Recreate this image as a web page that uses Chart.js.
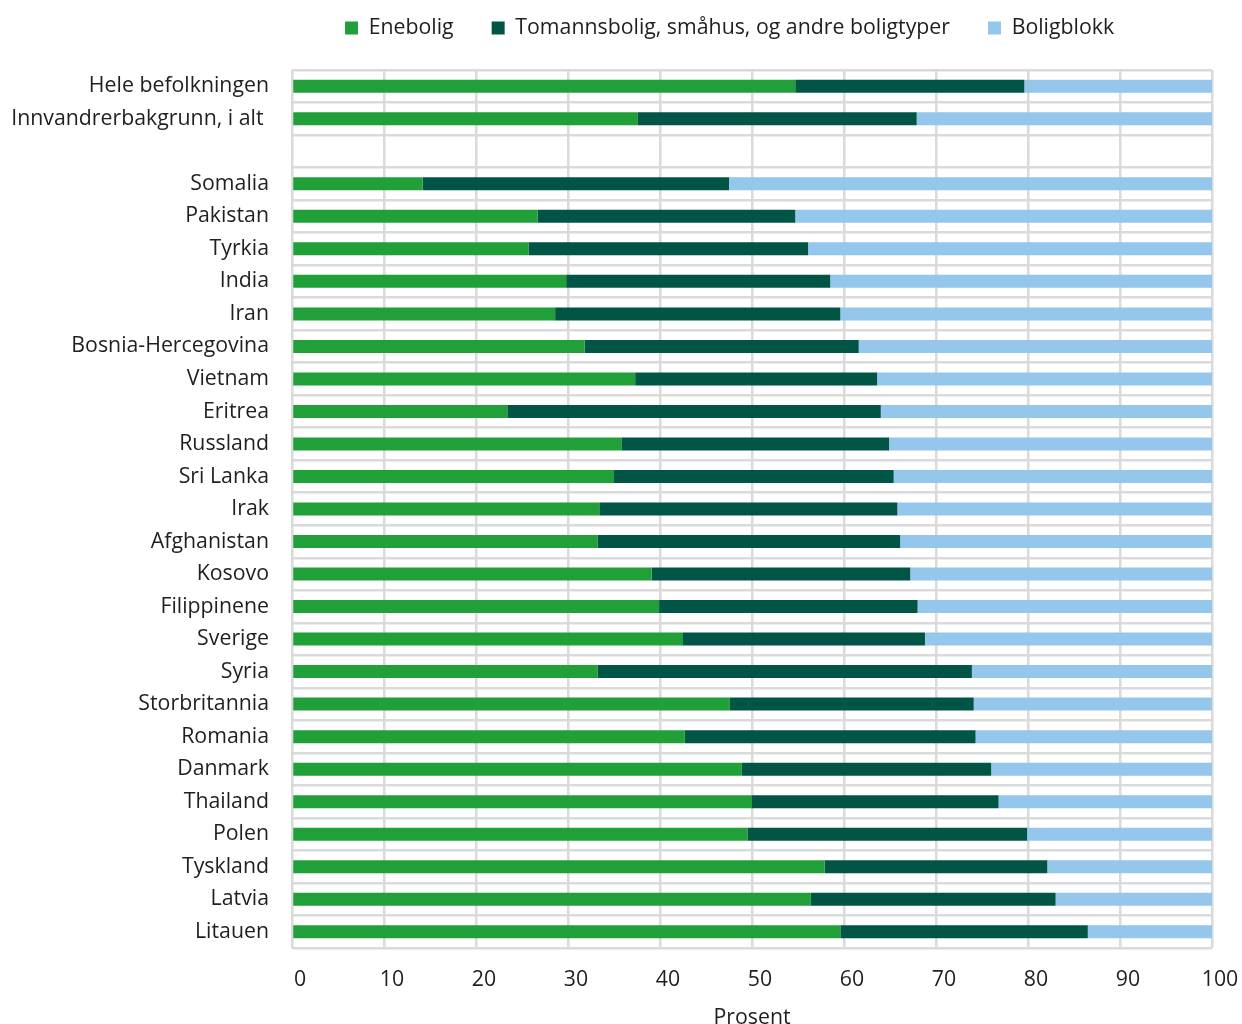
<!DOCTYPE html>
<html>
<head>
<meta charset="utf-8">
<script src="https://cdn.jsdelivr.net/npm/chart.js@4/dist/chart.umd.min.js"></script>
<style>
  html, body { margin: 0; padding: 0; background: #ffffff; }
  #wrap { width: 1242px; height: 1024px; }
</style>
</head>
<body>
<div id="wrap"><canvas id="c" width="1242" height="1024"></canvas></div>
<script>
const categories = [
  "Hele befolkningen", "Innvandrerbakgrunn, i alt ", "",
  "Somalia", "Pakistan", "Tyrkia", "India", "Iran", "Bosnia-Hercegovina",
  "Vietnam", "Eritrea", "Russland", "Sri Lanka", "Irak", "Afghanistan",
  "Kosovo", "Filippinene", "Sverige", "Syria", "Storbritannia", "Romania",
  "Danmark", "Thailand", "Polen", "Tyskland", "Latvia", "Litauen"
];
const seriesNames = ["Enebolig", "Tomannsbolig, småhus, og andre boligtyper", "Boligblokk"];
const enebolig = [54.7, 37.6, null, 14.2, 26.7, 25.7, 29.8, 28.6, 31.8, 37.3, 23.4, 35.8, 35.0, 33.4, 33.2, 39.1, 39.9, 42.5, 33.2, 47.6, 42.7, 48.9, 50.0, 49.5, 57.9, 56.4, 59.6];
const tomannsbolig = [24.9, 30.3, null, 33.3, 28.0, 30.4, 28.7, 31.0, 29.8, 26.3, 40.6, 29.1, 30.4, 32.4, 32.9, 28.1, 28.1, 26.3, 40.7, 26.5, 31.6, 27.1, 26.8, 30.4, 24.2, 26.6, 26.9];
const boligblokk = [20.4, 32.1, null, 52.5, 45.3, 43.9, 41.5, 40.4, 38.4, 36.4, 36.0, 35.1, 34.6, 34.2, 33.9, 32.8, 32.0, 31.2, 26.1, 25.9, 25.7, 24.0, 23.2, 20.1, 17.9, 17.0, 13.5];
const xTicks = [0, 10, 20, 30, 40, 50, 60, 70, 80, 90, 100];
const xTitle = "Prosent";

const colors = ["#21a03a", "#005545", "#95c6ec"];
const FONT = "'Open Sans', 'Noto Sans', sans-serif";
const FS = 21.3;
const GRID = "#dadada";

const legendTweak = {
  id: 'legendTweak',
  beforeInit(chart) {
    const orig = chart.legend.fit;
    chart.legend.fit = function () {
      orig.call(this);
      this.height = 60;
    };
  },
  afterLayout(chart) {
    const lg = chart.legend;
    const P = lg.options.labels.padding;
    const lw = lg.lineWidths[0];
    const x = (lg.left + P + lg.right - lw) / 2;
    const dx = 345 - x;
    lg.left += dx;
    lg.right += dx;
    const itemH = Math.max(lg.options.labels.boxHeight, FS);
    const dy = 28 - (lg.top + P + itemH / 2);
    lg.top += dy;
    lg.bottom += dy;
  }
};

new Chart(document.getElementById('c'), {
  type: 'bar',
  data: {
    labels: categories,
    datasets: [
      { label: seriesNames[0], data: enebolig, backgroundColor: colors[0] },
      { label: seriesNames[1], data: tomannsbolig, backgroundColor: colors[1] },
      { label: seriesNames[2], data: boligblokk, backgroundColor: colors[2] }
    ]
  },
  options: {
    indexAxis: 'y',
    responsive: false,
    animation: false,
    devicePixelRatio: 1,
    categoryPercentage: 1,
    barPercentage: 0.4,
    layout: { padding: { left: 0, right: 30, top: 10, bottom: 0 } },
    plugins: {
      legend: {
        position: 'top',
        labels: {
          font: { family: FONT, size: FS },
          color: '#1f1f1f',
          boxWidth: 13,
          boxHeight: 13,
          padding: 38
        }
      },
      tooltip: { enabled: false }
    },
    scales: {
      x: {
        stacked: true,
        min: 0, max: 100,
        afterBuildTicks(scale) { scale.ticks = xTicks.map(v => ({ value: v })); },
        afterFit(scale) {
          scale.height = 76;
          scale.paddingLeft = 0;
          scale.paddingRight = 0;
        },
        grid: { color: GRID, lineWidth: 2.5, drawTicks: false },
        border: { display: false },
        ticks: {
          font: { family: FONT, size: FS },
          color: '#1f1f1f',
          padding: 19,
          labelOffset: 8,
          maxRotation: 0
        },
        title: {
          display: true,
          text: xTitle,
          font: { family: FONT, size: FS },
          color: '#1f1f1f',
          padding: { top: 0, bottom: -7 }
        }
      },
      y: {
        stacked: true,
        afterFit(scale) { scale.width = 292; },
        grid: { color: GRID, lineWidth: 2.5, drawTicks: false, offset: true },
        border: { display: false },
        ticks: {
          font: { family: FONT, size: FS },
          color: '#1f1f1f',
          padding: 23,
          autoSkip: false
        }
      }
    }
  },
  plugins: [legendTweak]
});
</script>
</body>
</html>
